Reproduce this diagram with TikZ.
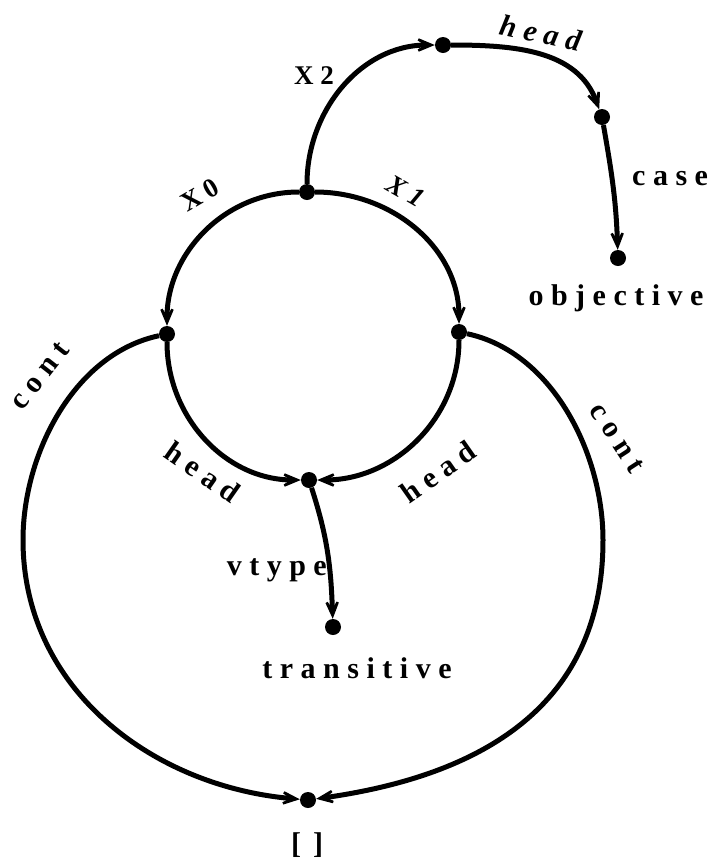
\documentclass[tikz,border=0pt]{standalone}
\usepackage{fontspec}
\newfontfamily\lblfont[LetterSpace=25]{Liberation Serif}
\usepackage{tikz}
\usetikzlibrary{arrows.meta}

\begin{document}
\begin{tikzpicture}[
        x=1pt, y=-1pt,
        dot/.style ={circle, fill=black, inner sep=0pt, minimum size=16pt},
        lbl/.style ={font=\lblfont\bfseries\fontsize{30}{30}\selectfont, inner sep=0pt},
        xlbl/.style={font=\lblfont\bfseries\fontsize{27}{27}\selectfont, inner sep=0pt},
        arc/.style ={line width=5pt, -{Stealth[length=30pt, width=25pt, inset=20pt]}}
    ]
        \useasboundingbox (0,0) rectangle (714,863);
        % feature nodes
        \node[dot] (root)  at (307,192) {};
        \node[dot] (hd)    at (443,45)  {};
        \node[dot] (cs)    at (602,117) {};
        \node[dot] (obj)   at (618,258) {};
        \node[dot] (left)  at (167,334) {};
        \node[dot] (right) at (459,332) {};
        \node[dot] (hx)    at (309,480) {};
        \node[dot] (trans) at (333,627) {};
        \node[dot] (empty) at (308,800) {};
        % bends of the two cont loops
        \coordinate (lbend) at (23,540);
        \coordinate (rbend) at (603,540);
        % arcs
        \draw[arc] (root) to[out=90, in=180] (hd);
        \draw[arc] (hd) to[out=0, in=110] (cs);
        \draw[arc] (cs) to[out=-80, in=92] (obj);
        \draw[arc] (root) to[out=180, in=90] (left);
        \draw[arc] (root) to[out=0, in=90] (right);
        \draw[arc] (left) to[out=-90, in=180] (hx);
        \draw[arc] (right) to[out=-90, in=0] (hx);
        \draw[arc] (hx) to[out=-72, in=92] (trans);
        \draw[arc] (left) to[out=192, in=90, looseness=0.9] (lbend)
                          to[out=-90, in=175] (empty);
        \draw[arc] (right) to[out=-12, in=90, looseness=0.9] (rbend)
                           to[out=-90, in=8, looseness=1.1] (empty);
        % labels
        \node[xlbl]             (lx2)  at (314,76)  {X2};
        \node[xlbl, rotate=30]  (lx0)  at (200,195) {X0};
        \node[xlbl, rotate=-30, font=\lblfont\bfseries\itshape\fontsize{27}{27}\selectfont]
                                (lx1)  at (406,191) {X1};
        \node[lbl, rotate=-12, font=\lblfont\bfseries\itshape\fontsize{30}{30}\selectfont]
                                (lhd)  at (541,33)  {head};
        \node[lbl, anchor=base west] (lcs)  at (632,185) {case};
        \node[lbl, anchor=base]      (lobj) at (616,305) {objective};
        \node[lbl, rotate=52]   (lcl)  at (40,376)  {cont};
        \node[lbl, rotate=-57]  (lcr)  at (617,438) {cont};
        \node[lbl, rotate=-35]  (lhl)  at (203,472) {head};
        \node[lbl, rotate=35]   (lhr)  at (438,472) {head};
        \node[lbl, anchor=base east] (lvt)  at (327,575) {vtype};
        \node[lbl, anchor=base]      (ltr)  at (357,678) {transitive};
        \node[lbl]              (lem)  at (307,845) {[\hspace{12pt}]};
    \end{tikzpicture}
\end{document}
